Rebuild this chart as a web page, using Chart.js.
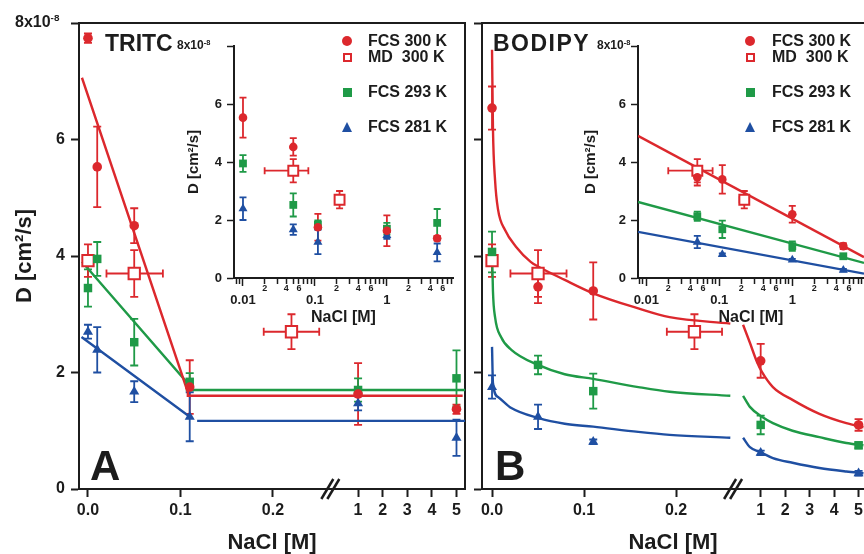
<!DOCTYPE html>
<html lang="en">
<head>
  <meta charset="UTF-8" />
  <title>D vs NaCl - TRITC and BODIPY</title>
  <script src="https://cdn.jsdelivr.net/npm/chart.js"></script>
  <style>
    body { margin: 0; background: #fff; overflow: hidden; }
    #fig {
      position: relative; width: 864px; height: 554px;
      font-family: "Liberation Sans", Arial, sans-serif; font-weight: bold; color: #1c1c1c;
    }
    #fig canvas { position: absolute; }
    .lbl { position: absolute; white-space: nowrap; line-height: 1; }
    .lbl sup { font-size: 0.62em; line-height: 0; vertical-align: 0.6em; }
    .mk { position: absolute; box-sizing: border-box; }
  </style>
</head>
<body>
<div id="fig">
  <canvas id="mainA" width="470" height="554" style="left:0;top:0"></canvas>
  <canvas id="mainB" width="400" height="554" style="left:470px;top:0"></canvas>
  <canvas id="insetA" width="284" height="292" style="left:176px;top:35px"></canvas>
  <canvas id="insetB" width="290" height="292" style="left:580px;top:35px"></canvas>

  <div class="lbl" style="left:15px;top:14px;font-size:16px">8x10<sup>-8</sup></div>
  <div class="lbl" style="left:105px;top:32px;font-size:23px">TRITC</div>
  <div class="lbl" style="left:177px;top:39px;font-size:12px">8x10<sup>-8</sup></div>
  <div class="lbl" style="left:493px;top:32px;font-size:23px;letter-spacing:1.5px">BODIPY</div>
  <div class="lbl" style="left:597px;top:39px;font-size:12px">8x10<sup>-8</sup></div>
  <div class="lbl" style="left:90px;top:445px;font-size:42px">A</div>
  <div class="lbl" style="left:495px;top:445px;font-size:42px">B</div>
</div>

<script>
  // ---- data (D in 1e-8 cm^2/s, NaCl in M) ----
  const tritcConc = [0, 0.01, 0.05, 0.11, 1, 5];
  const tritc300 = [7.74, 5.53, 4.52, 1.75, 1.63, 1.37];
  const tritc300Err = [0.08, 0.69, 0.3, 0.46, 0.53, 0.08];
  const tritc293 = [3.45, 3.95, 2.52, 1.84, 1.7, 1.9];
  const tritc293Err = [0.32, 0.29, 0.4, 0.15, 0.2, 0.48];
  const tritc281 = [2.7, 2.39, 1.67, 1.24, 1.47, 0.88];
  const tritc281Err = [0.12, 0.39, 0.18, 0.42, 0.12, 0.31];

  const bodipyConc = [0, 0.05, 0.11, 1, 5];
  const bodipy300 = [6.54, 3.47, 3.4, 2.2, 1.1];
  const bodipy300Err = [0.37, 0.28, 0.49, 0.29, 0.1];
  const bodipy293 = [4.07, 2.13, 1.68, 1.1, 0.75];
  const bodipy293Err = [0.35, 0.16, 0.3, 0.16, 0.05];
  const bodipy281 = [1.75, 1.24, 0.81, 0.62, 0.27];
  const bodipy281Err = [0.2, 0.21, 0.04, 0.04, 0.04];

  // MD runs (same in both panels), with a spread in concentration
  const mdConc = [0, 0.05, 0.22];
  const mdConcLo = [0, 0.02, 0.19];
  const mdConcHi = [0, 0.081, 0.25];
  const md300 = [3.92, 3.7, 2.7];
  const md300Err = [0.28, 0.4, 0.3];

  // fitted lines as [NaCl, D]
  const tritcFit300 = [[-0.0065, 7.06], [0.108, 1.66], [0.108, 1.6], [5.25, 1.6]];
  const tritcFit293 = [[-0.0065, 3.9], [0.107, 1.83], [0.11, 1.7], [5.35, 1.7]];
  const tritcFit281 = [[-0.007, 2.61], [0.11, 1.24], [0.114, null], [0.118, 1.17], [5.35, 1.17]];

  const bodipyFit300 = [[0, 7.54], [0.001, 6.2], [0.0033, 5.3], [0.0065, 4.8], [0.014, 4.45], [0.026, 4.16],
    [0.042, 3.9], [0.05, 3.82], [0.079, 3.59], [0.11, 3.36], [0.159, 3.1], [0.193, 2.95], [0.259, 2.84],
    [0.27, null], [0.28, 2.82], [0.56, 2.51], [0.85, 2.18], [1.05, 2.01], [1.5, 1.75], [2.3, 1.53],
    [3.4, 1.29], [4.5, 1.13], [5.2, 1.06]];
  const bodipyFit293 = [[0, 4.1], [0.001, 3.4], [0.0033, 2.95], [0.0098, 2.61], [0.021, 2.39], [0.05, 2.13],
    [0.079, 1.97], [0.11, 1.89], [0.159, 1.75], [0.193, 1.67], [0.259, 1.6],
    [0.27, null], [0.28, 1.6], [0.56, 1.41], [1.05, 1.24], [1.5, 1.13], [2.3, 1.0], [3.4, 0.89],
    [4.5, 0.79], [5.2, 0.75]];
  const bodipyFit281 = [[0, 2.44], [0.001, 1.82], [0.0065, 1.58], [0.021, 1.39], [0.05, 1.22], [0.079, 1.12],
    [0.11, 1.07], [0.159, 0.98], [0.193, 0.93], [0.259, 0.88],
    [0.27, null], [0.28, 0.88], [0.56, 0.72], [1.05, 0.62], [1.5, 0.53], [2.3, 0.45], [3.4, 0.36],
    [4.5, 0.3], [5.2, 0.27]];

  // inset B: straight lines on the log axis
  const insetFit300 = [[0.0077, 4.9], [9.6, 0.72]];
  const insetFit293 = [[0.0077, 2.62], [9.6, 0.52]];
  const insetFit281 = [[0.0077, 1.59], [9.6, 0.15]];

  // ticks
  const mainTicks = [0, 0.1, 0.2, 1, 2, 3, 4, 5];
  const mainTickText = ['0.0', '0.1', '0.2', '1', '2', '3', '4', '5'];
  const yTickText = ['0', '2', '4', '6', ''];
  const logTicks = [0.008, 0.009,
    0.01, 0.02, 0.03, 0.04, 0.05, 0.06, 0.07, 0.08, 0.09,
    0.1, 0.2, 0.3, 0.4, 0.5, 0.6, 0.7, 0.8, 0.9,
    1, 2, 3, 4, 5, 6, 7, 8, 9];
  const logTickText = ['', '',
    '0.01', '2', '', '4', '', '6', '', '', '',
    '0.1', '2', '', '4', '', '6', '', '', '',
    '1', '2', '', '4', '', '6', '', '', ''];
  const logMajor = [0.01, 0.1, 1];

  const keyText = ['FCS 300 K', 'MD\u00a0 300 K', 'FCS 293 K', 'FCS 281 K'];

  // ---- look ----
  const ink = '#1c1c1c';
  const red = '#dc282d', green = '#1f9a47', blue = '#1f4fa2';

  Chart.defaults.font.family = '"Liberation Sans", Arial, sans-serif';
  Chart.defaults.font.weight = 'bold';
  Chart.defaults.color = ink;
  Chart.defaults.animation = false;
  Chart.defaults.responsive = false;
  Chart.defaults.layout.autoPadding = false; // frame sizes are set by hand below
  Chart.defaults.plugins.legend.display = false;
  Chart.defaults.plugins.tooltip.enabled = false;

  // the main x axes are broken: linear up to 0.26 M, then 1..5 M squeezed in
  const brk = { at: 0.27, one: 0.292, per: 0.0266 };
  class BrokenScale extends Chart.LinearScale {
    static id = 'broken';
    static defaults = {};
    determineDataLimits() { this.min = this.options.lo; this.max = this.options.hi; }
    buildTicks() { return []; }
    getPixelForValue(v) {
      return super.getPixelForValue(v <= brk.at ? v : brk.one + (v - 1) * brk.per);
    }
  }

  const errorBars = {
    id: 'errorBars',
    beforeDatasetsDraw(chart, args, opts) {
      const { ctx, scales: { x, y } } = chart;
      const cap = opts.cap || 4;
      chart.data.datasets.forEach(ds => {
        ctx.save();
        ctx.strokeStyle = ds.borderColor;
        ctx.lineWidth = 1.8;
        ds.data.forEach(p => {
          if (!p.e && !(p.xh > p.xl)) return;
          const px = x.getPixelForValue(p.x), py = y.getPixelForValue(p.y);
          ctx.beginPath();
          if (p.e) {
            const t = y.getPixelForValue(p.y + p.e), b = y.getPixelForValue(p.y - p.e);
            ctx.moveTo(px, t); ctx.lineTo(px, b);
            ctx.moveTo(px - cap, t); ctx.lineTo(px + cap, t);
            ctx.moveTo(px - cap, b); ctx.lineTo(px + cap, b);
          }
          if (p.xh > p.xl) {
            const l = x.getPixelForValue(p.xl), r = x.getPixelForValue(p.xh);
            ctx.moveTo(l, py); ctx.lineTo(r, py);
            ctx.moveTo(l, py - cap); ctx.lineTo(l, py + cap);
            ctx.moveTo(r, py - cap); ctx.lineTo(r, py + cap);
          }
          ctx.stroke();
        });
        ctx.restore();
      });
    }
  };

  // the "//" on the broken axis
  const breakMark = {
    id: 'breakMark',
    afterDraw(chart, args, opts) {
      if (opts.at == null) return;
      const { ctx } = chart;
      const px = chart.scales.x.getPixelForValue(opts.at), y0 = chart.chartArea.bottom;
      ctx.save();
      ctx.strokeStyle = ink;
      ctx.lineWidth = 2.5;
      [-3, 3].forEach(d => {
        ctx.beginPath();
        ctx.moveTo(px + d - 6, y0 + 10);
        ctx.lineTo(px + d + 6, y0 - 10);
        ctx.stroke();
      });
      ctx.restore();
    }
  };

  Chart.register(BrokenScale, errorBars, breakMark);

  // ---- datasets ----
  const withErr = (xs, ys, es) => xs.map((x, i) => ({ x, y: ys[i], e: es[i] }));
  const mdPoints = mdConc.map((x, i) => ({ x, y: md300[i], e: md300Err[i], xl: mdConcLo[i], xh: mdConcHi[i] }));
  const pairs = list => list.map(([x, y]) => ({ x, y }));
  const positive = list => list.filter(p => p.x > 0);

  function marks(data, color, style, r) {
    return {
      data, borderColor: color, pointStyle: style, pointRadius: r,
      pointBackgroundColor: color, pointBorderColor: color, pointBorderWidth: 0, order: 1
    };
  }
  function openMarks(data, r) {
    return {
      data, borderColor: red, pointStyle: 'rect', pointRadius: r,
      pointBackgroundColor: '#fff', pointBorderColor: red, pointBorderWidth: 2, order: 2
    };
  }
  function fit(list, color, smooth) {
    return {
      data: pairs(list), showLine: true, pointRadius: 0, borderColor: color, borderWidth: 2.4,
      cubicInterpolationMode: smooth ? 'monotone' : 'default', tension: 0, order: 3
    };
  }

  // tick labels must not push the plot area in; the frame sizes are fixed
  const noOverhang = s => { s.paddingLeft = 0; s.paddingRight = 0; };

  // ---- scales ----
  function mainScales(lo, hi, yWidth, labels) {
    const tick = { drawOnChartArea: false, tickLength: 8, tickWidth: 2, tickColor: ink };
    return {
      x: {
        type: 'broken', lo, hi,
        afterBuildTicks: s => { s.ticks = mainTicks.map(value => ({ value })); },
        ticks: { autoSkip: false, maxRotation: 0, padding: 4, font: { size: 16 }, callback: (v, i) => mainTickText[i] },
        grid: tick,
        border: { color: ink, width: 2 },
        title: { display: true, text: 'NaCl [M]', font: { size: 22, lineHeight: 1 }, padding: 0 },
        afterFit: s => { s.height = 65; noOverhang(s); }
      },
      x2: {
        type: 'linear', position: 'top', grid: { display: false }, ticks: { display: false },
        border: { color: ink, width: 2 }, afterFit: s => { s.height = 23; noOverhang(s); }
      },
      y: {
        min: 0, max: 8,
        ticks: { stepSize: 2, display: labels, padding: 6, font: { size: 16 }, callback: (v, i) => yTickText[i] },
        grid: tick,
        border: { color: ink, width: 2 },
        title: { display: labels, text: 'D [cm²/s]', font: { size: 22 }, padding: { top: 12 } },
        afterFit: s => { s.width = yWidth; s.paddingTop = 0; s.paddingBottom = 0; }
      }
    };
  }

  function insetScales(min, max, titlePad) {
    return {
      x: {
        type: 'logarithmic', min, max,
        afterBuildTicks: s => {
          s.ticks = logTicks
            .map((value, i) => ({ value, text: logTickText[i], major: logMajor.includes(value) }))
            .filter(t => t.value <= max);
        },
        ticks: {
          autoSkip: false, maxRotation: 0, padding: 0,
          callback: (v, i, ticks) => ticks[i].text,
          font: c => c.tick && c.tick.major
            ? { size: 13, weight: 'bold', lineHeight: 2.15 }
            : { size: 9, weight: 'bold', lineHeight: 0.45 }
        },
        grid: {
          drawOnChartArea: false, tickLength: 8, tickWidth: 1.5, tickColor: ink,
          tickBorderDash: c => c.tick && c.tick.major ? [] : [5, 20]
        },
        border: { color: ink, width: 2 },
        title: { display: true, text: 'NaCl [M]', font: { size: 16 }, padding: 0 },
        afterFit: s => { s.height = 49; noOverhang(s); }
      },
      y: {
        min: 0, max: 8,
        ticks: { stepSize: 2, padding: 5, font: { size: 13 }, callback: (v, i) => yTickText[i] },
        grid: { drawOnChartArea: false, tickLength: 7, tickWidth: 1.5, tickColor: ink },
        border: { color: ink, width: 2 },
        title: { display: true, text: 'D [cm²/s]', font: { size: 15 }, padding: { top: titlePad } },
        afterFit: s => { s.width = 58; s.paddingTop = 0; s.paddingBottom = 0; }
      }
    };
  }

  // ---- panel A: TRITC ----
  const scalesA = mainScales(-0.0097, 0.4076, 79, true);
  scalesA.y2 = {
    type: 'linear', position: 'right', grid: { display: false }, ticks: { display: false },
    border: { color: ink, width: 2 }, afterFit: s => { s.width = 5; s.paddingTop = 0; s.paddingBottom = 0; }
  };
  new Chart(document.getElementById('mainA'), {
    type: 'scatter',
    data: {
      datasets: [
        marks(withErr(tritcConc, tritc300, tritc300Err), red, 'circle', 4.8),
        marks(withErr(tritcConc, tritc293, tritc293Err), green, 'rect', 6),
        marks(withErr(tritcConc, tritc281, tritc281Err), blue, 'triangle', 5.8),
        openMarks(mdPoints, 8),
        fit(tritcFit300, red, false),
        fit(tritcFit293, green, false),
        fit(tritcFit281, blue, false)
      ]
    },
    options: {
      layout: { padding: 0 },
      scales: scalesA,
      plugins: { errorBars: { cap: 4 }, breakMark: { at: 0.262 } }
    }
  });

  // ---- panel B: BODIPY ----
  new Chart(document.getElementById('mainB'), {
    type: 'scatter',
    data: {
      datasets: [
        marks(withErr(bodipyConc, bodipy300, bodipy300Err), red, 'circle', 4.8),
        marks(withErr(bodipyConc, bodipy293, bodipy293Err), green, 'rect', 6),
        marks(withErr(bodipyConc, bodipy281, bodipy281Err), blue, 'triangle', 5.8),
        openMarks(mdPoints, 8),
        fit(bodipyFit300, red, true),
        fit(bodipyFit293, green, true),
        fit(bodipyFit281, blue, true)
      ]
    },
    options: {
      layout: { padding: { right: 6 } },
      scales: mainScales(-0.0109, 0.4043, 12, false),
      plugins: { errorBars: { cap: 4 }, breakMark: { at: 0.262 } }
    }
  });

  // ---- insets (log axis, x = 0 left out) ----
  new Chart(document.getElementById('insetA'), {
    type: 'scatter',
    data: {
      datasets: [
        marks(positive(withErr(tritcConc, tritc300, tritc300Err)), red, 'circle', 4.3),
        marks(positive(withErr(tritcConc, tritc293, tritc293Err)), green, 'rect', 5.5),
        marks(positive(withErr(tritcConc, tritc281, tritc281Err)), blue, 'triangle', 5.2),
        openMarks(positive(mdPoints), 7)
      ]
    },
    options: {
      layout: { padding: { top: 11, right: 7 } },
      scales: insetScales(0.0075, 8.3, 8.5),
      plugins: { errorBars: { cap: 3.5 } }
    }
  });

  new Chart(document.getElementById('insetB'), {
    type: 'scatter',
    data: {
      datasets: [
        marks(positive(withErr(bodipyConc, bodipy300, bodipy300Err)), red, 'circle', 4.3),
        marks(positive(withErr(bodipyConc, bodipy293, bodipy293Err)), green, 'rect', 5.5),
        marks(positive(withErr(bodipyConc, bodipy281, bodipy281Err)), blue, 'triangle', 5.2),
        openMarks(positive(mdPoints), 7),
        fit(insetFit300, red, false),
        fit(insetFit293, green, false),
        fit(insetFit281, blue, false)
      ]
    },
    options: {
      layout: { padding: { top: 11, right: 6 } },
      scales: insetScales(0.0077, 9.6, 2),
      plugins: { errorBars: { cap: 3.5 } }
    }
  });

  // ---- legends ----
  const keyRows = [41, 57, 92, 127];
  const keyLook = [
    c => `width:10px;height:10px;border-radius:50%;background:${c};margin:-5px 0 0 -5px`,
    c => `width:9px;height:9px;border:2px solid ${c};background:#fff;margin:-4.5px 0 0 -4.5px`,
    c => `width:9px;height:9px;background:${c};margin:-4.5px 0 0 -4.5px`,
    c => `width:0;height:0;border-left:5.5px solid transparent;border-right:5.5px solid transparent;border-bottom:10px solid ${c};margin:-5.5px 0 0 -5.5px`
  ];
  const keyColors = [red, red, green, blue];
  function addKey(markX, textX) {
    const fig = document.getElementById('fig');
    keyText.forEach((t, i) => {
      const m = document.createElement('div');
      m.className = 'mk';
      m.style.cssText = `left:${markX}px;top:${keyRows[i]}px;` + keyLook[i](keyColors[i]);
      fig.appendChild(m);
      const l = document.createElement('div');
      l.className = 'lbl';
      l.style.cssText = `left:${textX}px;top:${keyRows[i] - 8}px;font-size:16px`;
      l.textContent = t;
      fig.appendChild(l);
    });
  }
  addKey(347, 368);
  addKey(750, 772);
</script>
</body>
</html>
